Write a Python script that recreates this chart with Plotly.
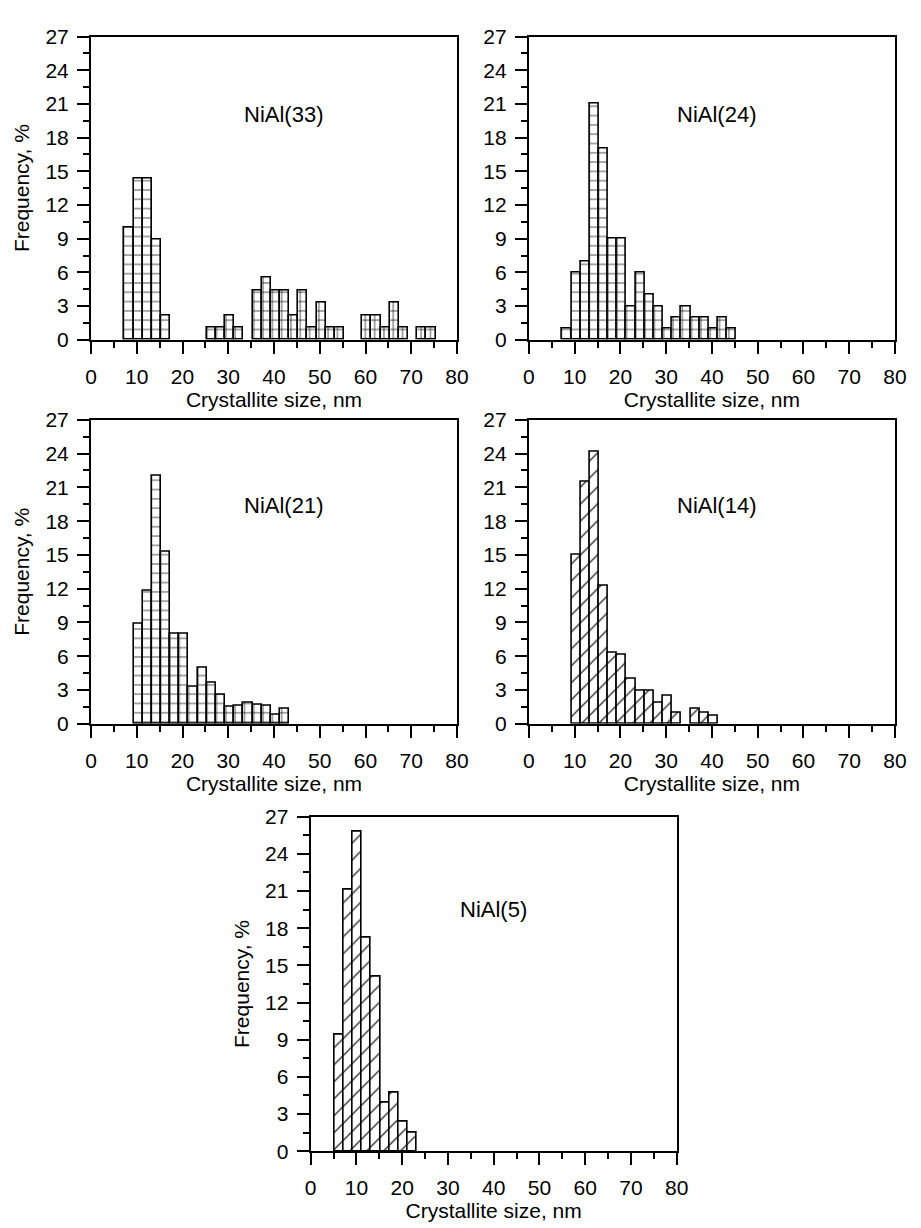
import plotly.graph_objects as go

W, H = 921, 1228

# ---------------- data ----------------
size_33 = [8.3, 10.3, 12.3, 14.3, 16.3, 26.3, 28.3, 30.3, 32.3, 36.3, 38.3, 40.3, 42.3,
           44.3, 46.3, 48.3, 50.3, 52.3, 54.3, 60.3, 62.3, 64.3, 66.3, 68.3, 72.3, 74.3]
freq_33 = [10.0, 14.4, 14.4, 8.9, 2.2, 1.1, 1.1, 2.2, 1.1, 4.4, 5.5, 4.4, 4.4,
           2.2, 4.4, 1.1, 3.3, 1.1, 1.1, 2.2, 2.2, 1.1, 3.3, 1.1, 1.1, 1.1]

size_24 = [8.3, 10.3, 12.3, 14.3, 16.3, 18.3, 20.3, 22.3, 24.3, 26.3, 28.3, 30.3, 32.3,
           34.3, 36.3, 38.3, 40.3, 42.3, 44.3]
freq_24 = [1.0, 6.0, 7.0, 21.0, 17.0, 9.0, 9.0, 3.0, 6.0, 4.0, 3.0, 1.0, 2.0,
           3.0, 2.0, 2.0, 1.0, 2.0, 1.0]

size_21 = [10.3, 12.3, 14.3, 16.3, 18.3, 20.3, 22.3, 24.3, 26.3, 28.3, 30.3, 32.3, 34.3,
           36.3, 38.3, 40.3, 42.3]
freq_21 = [8.9, 11.8, 22.0, 15.3, 8.0, 8.0, 3.3, 5.0, 3.6, 2.6, 1.5, 1.6, 1.9,
           1.7, 1.6, 0.8, 1.3]

size_14 = [10.3, 12.3, 14.3, 16.3, 18.3, 20.3, 22.3, 24.3, 26.3, 28.3, 30.3, 32.3,
           36.3, 38.3, 40.3]
freq_14 = [15.0, 21.5, 24.2, 12.3, 6.3, 6.1, 4.0, 2.9, 2.9, 1.9, 2.5, 1.0,
           1.3, 1.0, 0.7]

size_5 = [6.2, 8.2, 10.2, 12.2, 14.2, 16.2, 18.2, 20.2, 22.2]
freq_5 = [9.4, 21.1, 25.8, 17.2, 14.1, 3.9, 4.7, 2.4, 1.5]

labels = ["NiAl(33)", "NiAl(24)", "NiAl(21)", "NiAl(14)", "NiAl(5)"]
x_ticks = [0, 10, 20, 30, 40, 50, 60, 70, 80]
y_ticks = [0, 3, 6, 9, 12, 15, 18, 21, 24, 27]
x_title = "Crystallite size, nm"
y_title = "Frequency, %"

# ---------------- layout (pixel boxes: left, right, top, bottom) ----------------
boxes = [
    (86.7, 460.0, 25.0, 334.0),
    (533.3, 906.7, 25.0, 334.0),
    (86.7, 460.0, 415.6, 725.4),
    (533.3, 906.7, 415.6, 725.4),
    (310.7, 684.0, 820.0, 1161.0),
]
series = [(size_33, freq_33, "+"), (size_24, freq_24, "+"), (size_21, freq_21, "+"),
          (size_14, freq_14, "/"), (size_5, freq_5, "/")]
label_pos = [(42.0, 20.1), (41.0, 20.1), (42.0, 19.4), (41.0, 19.4), (40.0, 19.5)]
show_ytitle = [True, False, True, False, True]

FONT = "Liberation Sans, Arial, sans-serif"
FS = 21
fig = go.Figure()

for i, ((xs, ys, shp), (l, r, t, b)) in enumerate(zip(series, boxes)):
    k = "" if i == 0 else str(i + 1)
    pat = dict(shape=shp, fgcolor="black", bgcolor="white", fillmode="replace")
    if shp == "+":
        pat.update(size=9.3, solidity=0.14)
    else:
        pat.update(size=12, solidity=0.1)
    fig.add_trace(go.Bar(
        x=xs, y=ys, width=2.0,
        marker=dict(color="white", line=dict(color="black", width=1.6), pattern=pat),
        xaxis="x" + k, yaxis="y" + k, showlegend=False,
    ))
    common = dict(showgrid=False, zeroline=False, showline=True, linecolor="black",
                  linewidth=2, mirror=True, ticks="outside", tickwidth=2,
                  tickcolor="black", ticklen=12,
                  tickfont=dict(family=FONT, size=FS, color="black"))
    fig.layout["xaxis" + k] = dict(
        common, domain=[l / W, r / W], anchor="y" + k, range=[0, 80],
        tickvals=x_ticks, ticklabelstandoff=5,
        minor=dict(dtick=5, tick0=0, ticklen=6, tickwidth=2, ticks="outside",
                   tickcolor="black", showgrid=False),
        title=dict(text=x_title, font=dict(family=FONT, size=FS, color="black"), standoff=0),
    )
    fig.layout["yaxis" + k] = dict(
        common, domain=[1 - b / H, 1 - t / H], anchor="x" + k, range=[0, 27],
        tickvals=y_ticks, ticklabelstandoff=4,
        minor=dict(dtick=1.5, tick0=0, ticklen=6, tickwidth=2, ticks="outside",
                   tickcolor="black", showgrid=False),
        title=dict(text=y_title if show_ytitle[i] else "",
                   font=dict(family=FONT, size=FS, color="black"), standoff=10),
    )
    fig.add_annotation(x=label_pos[i][0], y=label_pos[i][1], xref="x" + k, yref="y" + k,
                       text=labels[i], showarrow=False,
                       font=dict(family=FONT, size=22, color="black"))

fig.update_layout(
    width=W, height=H, margin=dict(l=0, r=0, t=0, b=0),
    paper_bgcolor="white", plot_bgcolor="white", bargap=0,
)
fig.write_html("out.html")
